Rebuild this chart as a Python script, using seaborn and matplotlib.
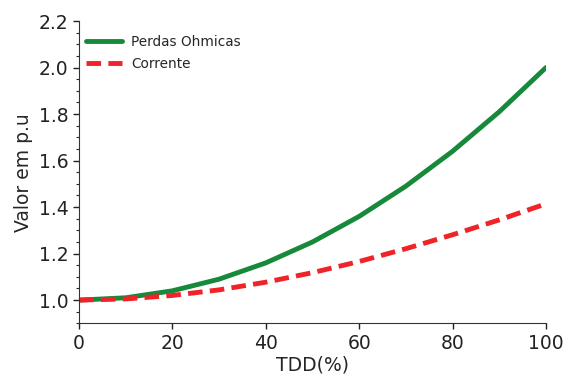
import matplotlib
matplotlib.use("Agg")
import matplotlib.pyplot as plt
from matplotlib.ticker import AutoMinorLocator
import seaborn as sns
import pandas as pd

tdd = [0, 10, 20, 30, 40, 50, 60, 70, 80, 90, 100]
perdas = [1.00, 1.01, 1.04, 1.09, 1.16, 1.25, 1.36, 1.49, 1.64, 1.81, 2.00]
corrente = [1.000, 1.005, 1.020, 1.044, 1.077, 1.118, 1.166, 1.221, 1.281, 1.345, 1.414]

df = pd.DataFrame({"TDD": tdd, "Perdas Ohmicas": perdas, "Corrente": corrente})

sns.set_style("ticks")
plt.rcParams["font.family"] = ["DejaVu Sans"]

fig, ax = plt.subplots(figsize=(5.64, 3.76), dpi=100)
sns.lineplot(data=df, x="TDD", y="Perdas Ohmicas", ax=ax, color="#17893a",
             linewidth=3.5, label="Perdas Ohmicas")
sns.lineplot(data=df, x="TDD", y="Corrente", ax=ax, color="#ef2328",
             linewidth=3.5, linestyle=(0, (3.0, 1.5)), label="Corrente")

ax.set_xlim(0, 100)
ax.set_ylim(0.9, 2.2)
ax.set_yticks([1.0, 1.2, 1.4, 1.6, 1.8, 2.0, 2.2])
ax.set_xticks([0, 20, 40, 60, 80, 100])
ax.yaxis.set_minor_locator(AutoMinorLocator(4))
ax.tick_params(axis="both", labelsize=13.5, length=4, width=1, colors="#222222")
ax.tick_params(axis="y", which="minor", length=2.5, width=0.8)
ax.set_xlabel("TDD(%)", fontsize=13.5, labelpad=2)
ax.set_ylabel("Valor em p.u", fontsize=13.5)
for side in ("top", "right"):
    ax.spines[side].set_visible(False)
for side in ("left", "bottom"):
    ax.spines[side].set_color("#333333")

ax.legend(loc="upper left", bbox_to_anchor=(-0.005, 0.985), frameon=False,
          fontsize=9.8, handlelength=2.6, handletextpad=0.7,
          borderaxespad=0.3, labelspacing=0.55)

fig.subplots_adjust(left=0.14, right=0.968, top=0.944, bottom=0.14)
fig.savefig("out.png", dpi=100)
